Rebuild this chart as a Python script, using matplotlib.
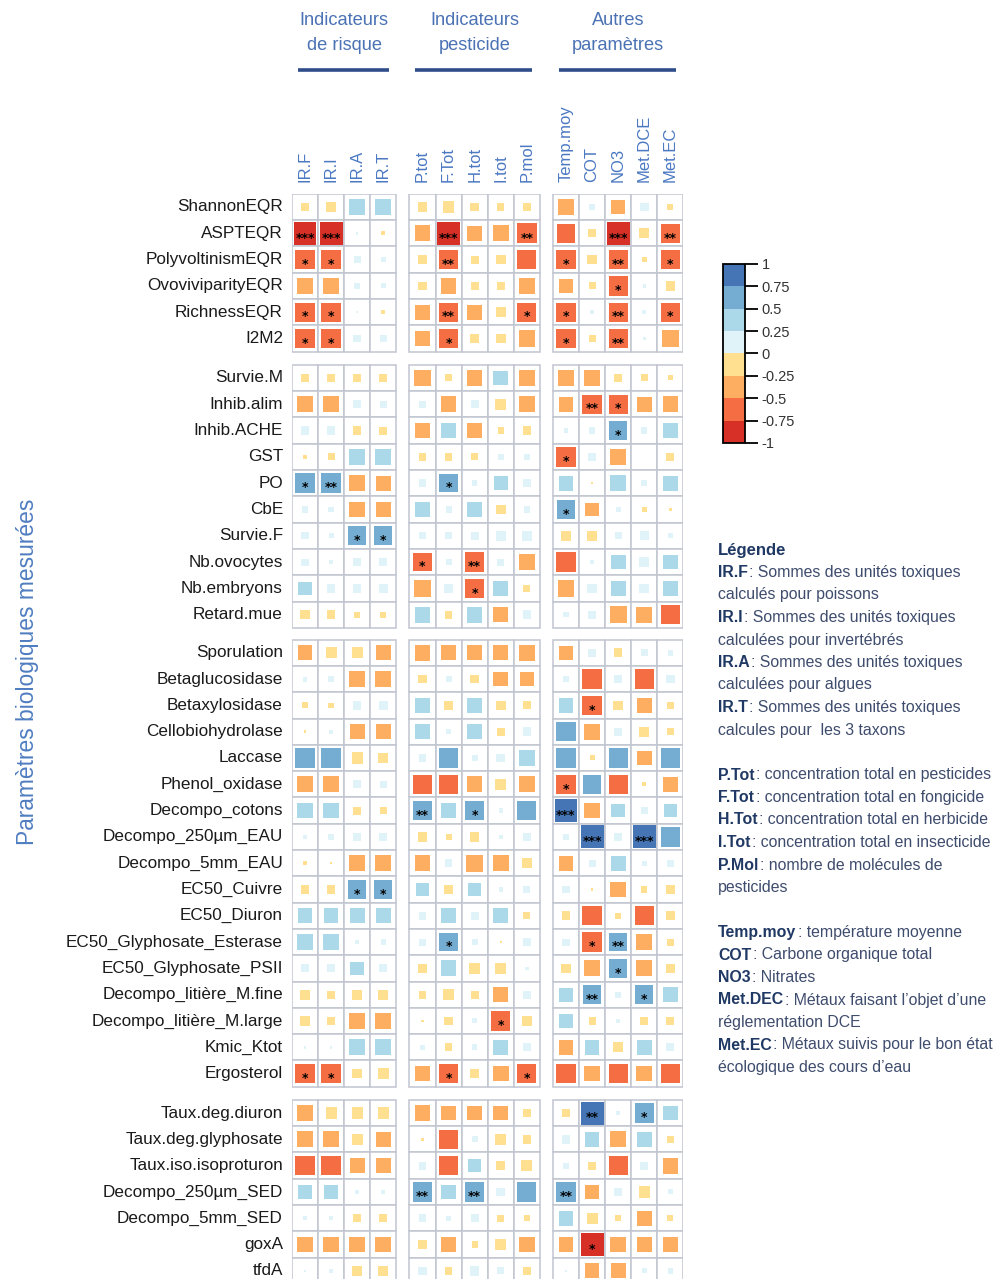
import numpy as np
import matplotlib
matplotlib.use("Agg")
import matplotlib.pyplot as plt
from matplotlib.patches import Rectangle
from matplotlib.colors import ListedColormap, BoundaryNorm
from matplotlib import font_manager
import matplotlib.colorbar as mcolorbar

# ---- data ----
col_groups = ["Indicateurs\nde risque", "Indicateurs\npesticide", "Autres\nparamètres"]
col_group_sizes = [4, 5, 5]
col_labels = ["IR.F", "IR.I", "IR.A", "IR.T",
              "P.tot", "F.Tot", "H.tot", "I.tot", "P.mol",
              "Temp.moy", "COT", "NO3", "Met.DCE", "Met.EC"]

rows_1 = ["ShannonEQR", "ASPTEQR", "PolyvoltinismEQR", "OvoviviparityEQR", "RichnessEQR", "I2M2"]
corr_1 = [
    [-0.10, -0.15, 0.40, 0.40, -0.15, -0.20, -0.12, -0.08, -0.12, -0.40, 0.05, -0.30, 0.12, -0.06],
    [-0.85, -0.85, 0.01, -0.03, -0.40, -0.85, -0.35, -0.40, -0.65, -0.55, -0.10, -0.85, -0.15, -0.60],
    [-0.60, -0.60, 0.08, 0.05, -0.15, -0.60, -0.10, -0.15, -0.60, -0.60, -0.15, -0.60, -0.05, -0.60],
    [-0.40, -0.40, 0.06, 0.04, -0.12, -0.40, -0.10, -0.10, -0.40, -0.35, -0.08, -0.60, 0.02, -0.15],
    [-0.60, -0.60, 0.01, -0.03, -0.35, -0.60, -0.35, -0.15, -0.60, -0.60, 0.03, -0.60, 0.03, -0.60],
    [-0.60, -0.60, 0.10, 0.08, -0.35, -0.60, -0.15, -0.15, -0.45, -0.60, -0.08, -0.60, 0.02, -0.45],
]
stars_1 = ["00000000000000", "33000300200302", "11000200010201",
           "00000000000100", "11000200110201", "11000100010200"]

rows_2 = ["Survie.M", "Inhib.alim", "Inhib.ACHE", "GST", "PO", "CbE", "Survie.F",
          "Nb.ovocytes", "Nb.embryons", "Retard.mue"]
corr_2 = [
    [-0.12, -0.12, -0.10, -0.10, -0.45, -0.08, -0.40, 0.35, -0.45, -0.45, -0.40, -0.10, -0.08, -0.04],
    [-0.40, -0.40, 0.10, 0.08, 0.08, -0.40, 0.10, -0.20, -0.40, -0.35, -0.60, -0.60, -0.35, -0.40],
    [0.12, 0.12, -0.12, -0.10, -0.40, 0.35, -0.40, -0.06, -0.12, 0.03, 0.06, 0.55, 0.06, 0.35],
    [-0.02, -0.08, 0.40, 0.40, -0.10, -0.10, -0.08, 0.06, 0.05, -0.60, 0.10, -0.40, 0.00, -0.10],
    [0.60, 0.60, -0.40, -0.35, 0.10, 0.55, 0.05, 0.30, 0.12, 0.35, -0.01, 0.40, 0.06, 0.35],
    [0.06, 0.05, -0.40, -0.35, 0.35, 0.06, 0.35, -0.15, 0.06, 0.55, -0.30, 0.04, -0.05, -0.01],
    [0.08, 0.04, 0.55, 0.55, 0.08, 0.08, 0.10, 0.15, 0.15, -0.15, -0.15, 0.08, 0.12, 0.04],
    [0.08, 0.03, 0.10, 0.10, -0.55, 0.06, -0.60, 0.08, -0.40, -0.60, 0.03, 0.35, 0.15, 0.35],
    [0.30, 0.12, 0.12, 0.12, -0.45, 0.15, -0.55, 0.35, -0.08, -0.45, 0.15, 0.35, 0.15, 0.35],
    [-0.15, -0.12, -0.06, -0.06, 0.40, -0.10, 0.40, -0.35, 0.12, 0.05, 0.10, -0.45, -0.40, -0.60],
]
stars_2 = ["00000000000000", "00000000002100", "00000000000100", "00000000010000",
           "12000100000000", "00000000010000", "00110000000000", "00001020000000",
           "00000010000000", "00000000000000"]

rows_3 = ["Sporulation", "Betaglucosidase", "Betaxylosidase", "Cellobiohydrolase", "Laccase",
          "Phenol_oxidase", "Decompo_cotons", "Decompo_250µm_EAU", "Decompo_5mm_EAU",
          "EC50_Cuivre", "EC50_Diuron", "EC50_Glyphosate_Esterase", "EC50_Glyphosate_PSII",
          "Decompo_litière_M.fine", "Decompo_litière_M.large", "Kmic_Ktot", "Ergosterol"]
corr_3 = [
    [-0.35, -0.20, -0.20, -0.35, -0.40, -0.35, -0.35, -0.35, -0.40, -0.30, 0.10, -0.12, 0.08, 0.05],
    [0.04, 0.06, -0.40, -0.40, -0.12, 0.06, -0.12, -0.35, -0.35, 0.06, -0.60, 0.12, -0.60, 0.12],
    [-0.06, -0.05, 0.12, 0.12, 0.35, -0.12, 0.35, -0.15, -0.10, 0.35, -0.60, -0.15, -0.35, -0.08],
    [-0.01, 0.03, -0.35, -0.35, 0.35, 0.05, 0.35, -0.10, 0.12, 0.60, -0.40, 0.10, -0.15, -0.08],
    [0.60, 0.60, -0.20, -0.15, 0.10, 0.60, 0.06, 0.12, 0.40, 0.60, -0.04, 0.60, -0.35, 0.60],
    [-0.40, -0.40, 0.10, 0.08, -0.60, -0.60, -0.40, -0.20, -0.40, -0.60, 0.55, -0.60, -0.03, -0.35],
    [0.40, 0.40, -0.10, -0.08, 0.60, 0.35, 0.55, 0.03, 0.60, 0.80, -0.40, 0.30, 0.08, 0.30],
    [0.02, 0.06, 0.10, 0.10, -0.15, -0.06, -0.15, 0.02, 0.10, 0.06, 0.85, 0.10, 0.85, 0.60],
    [-0.03, -0.01, -0.40, -0.40, -0.40, 0.10, -0.45, -0.40, -0.15, -0.35, 0.08, 0.35, 0.04, 0.08],
    [-0.12, -0.12, 0.55, 0.55, 0.30, -0.15, 0.30, 0.03, 0.08, 0.08, -0.01, -0.40, -0.06, -0.15],
    [0.35, 0.35, 0.35, 0.35, 0.10, 0.35, 0.10, 0.35, -0.08, -0.12, -0.60, -0.06, -0.60, -0.12],
    [0.40, 0.40, 0.02, 0.05, 0.08, 0.55, 0.06, -0.01, 0.10, 0.08, -0.60, 0.55, -0.40, -0.08],
    [0.10, 0.10, 0.30, 0.10, -0.15, 0.40, -0.20, -0.20, 0.02, -0.15, -0.40, 0.55, -0.40, -0.15],
    [-0.15, -0.10, -0.15, -0.15, -0.10, -0.20, -0.10, -0.35, 0.10, 0.30, 0.55, 0.06, 0.55, 0.35],
    [-0.15, -0.12, -0.40, -0.40, -0.01, -0.12, 0.04, -0.60, -0.15, 0.35, -0.08, 0.02, -0.10, -0.10],
    [0.01, 0.01, 0.40, 0.40, 0.04, -0.10, 0.05, 0.35, 0.10, -0.35, 0.35, -0.15, 0.35, 0.10],
    [-0.60, -0.60, -0.15, -0.20, -0.40, -0.60, -0.15, -0.40, -0.60, -0.60, -0.40, -0.60, -0.40, -0.60],
]
stars_3 = ["00000000000000", "00000000000000", "00000000001000", "00000000000000",
           "00000000000000", "00000000010000", "00002010030000", "00000000003030",
           "00000000000000", "00110000000000", "00000000000000", "00000100001200",
           "00000000000100", "00000000002010", "00000001000000", "00000000000000",
           "11000100100000"]

rows_4 = ["Taux.deg.diuron", "Taux.deg.glyphosate", "Taux.iso.isoproturon", "Decompo_250µm_SED",
          "Decompo_5mm_SED", "goxA", "tfdA"]
corr_4 = [
    [-0.40, -0.20, -0.20, -0.20, -0.40, -0.35, -0.35, -0.35, -0.10, -0.12, 0.85, 0.02, 0.60, 0.35],
    [-0.40, -0.40, -0.20, -0.35, -0.01, -0.60, 0.06, -0.20, -0.12, 0.12, 0.35, -0.40, 0.35, -0.08],
    [-0.60, -0.60, -0.35, -0.35, 0.10, -0.60, 0.30, -0.12, -0.20, 0.06, -0.10, -0.60, 0.10, -0.40],
    [0.35, 0.35, 0.02, 0.03, 0.60, 0.35, 0.60, 0.12, 0.60, 0.60, -0.35, 0.10, -0.20, 0.04],
    [0.02, 0.02, -0.10, -0.10, 0.10, 0.04, 0.10, -0.08, -0.06, 0.35, -0.20, -0.06, -0.35, -0.06],
    [-0.40, -0.40, -0.40, -0.40, -0.15, -0.40, -0.06, -0.20, -0.40, -0.35, -0.85, -0.40, -0.35, -0.35],
    [0.01, 0.03, -0.15, -0.15, 0.12, -0.10, 0.15, 0.08, -0.12, 0.01, -0.35, -0.35, 0.04, 0.05],
]
stars_4 = ["00000000002010", "00000000000000", "00000000000000", "00002020020000",
           "00000000000000", "00000000001000", "00000000000000"]

cbar_ticks = [-1, -0.75, -0.5, -0.25, 0, 0.25, 0.5, 0.75, 1]
cbar_labels = ["-1", "-0.75", "-0.5", "-0.25", "0", "0.25", "0.5", "0.75", "1"]

legend_lines = [
    ("IR.F", "Sommes des unités toxiques"), (None, "calculés pour poissons"),
    ("IR.I", "Sommes des unités toxiques"), (None, "calculées pour invertébrés"),
    ("IR.A", "Sommes des unités toxiques"), (None, "calculées pour algues"),
    ("IR.T", "Sommes des unités toxiques"), (None, "calcules pour  les 3 taxons"),
    None,
    ("P.Tot", "concentration total en pesticides"), ("F.Tot", "concentration total en fongicide"),
    ("H.Tot", "concentration total en herbicide"), ("I.Tot", "concentration total en insecticide"),
    ("P.Mol", "nombre de molécules de"), (None, "pesticides"),
    None,
    ("Temp.moy", "température moyenne"), ("COT", "Carbone organique total"),
    ("NO3", "Nitrates"), ("Met.DEC", "Métaux faisant l’objet d’une"),
    (None, "réglementation DCE"), ("Met.EC", "Métaux suivis pour le bon état"),
    (None, "écologique des cours d’eau"),
]

palette = ["#D73027", "#F46D43", "#FDAE61", "#FEE090",
           "#E0F3F8", "#ABD9E9", "#74ADD1", "#4575B4"]

# ---- fonts ----
names = {f.name for f in font_manager.fontManager.ttflist}
if "Liberation Sans Narrow" in names:
    NARROW, nk = "Liberation Sans Narrow", 1.0
else:
    NARROW, nk = "Liberation Sans", 0.82
REG = "Liberation Sans"

W, H = 994, 1279
fig = plt.figure(figsize=(W / 100, H / 100), dpi=100)
fig.patch.set_facecolor("white")

X0, CW = 305, 26.1
Y0, CH = 207, 26.3

def fx(px):
    return px / W

def fy(py):
    return 1 - py / H

corr = np.array(corr_1 + corr_2 + corr_3 + corr_4)
stars = stars_1 + stars_2 + stars_3 + stars_4
row_labels = rows_1 + rows_2 + rows_3 + rows_4
row_block_sizes = [len(rows_1), len(rows_2), len(rows_3), len(rows_4)]
row_gaps = [0, 0.5, 0.95, 1.45]

col_x = []
for g, n in enumerate(col_group_sizes):
    for j in range(n):
        col_x.append(len(col_x) + 0.5 * g)
row_y = []
for b, n in enumerate(row_block_sizes):
    for i in range(n):
        row_y.append(len(row_y) + row_gaps[b])

ymax = row_y[-1] + 0.5
ax = fig.add_axes([fx(X0 - 0.5 * CW), fy(Y0 + ymax * CH), 15 * CW / W, (ymax + 0.5) * CH / H])
ax.set_xlim(-0.5, 14.5)
ax.set_ylim(ymax, -0.5)
ax.axis("off")

cmap = ListedColormap(palette)
norm = BoundaryNorm(np.linspace(-1, 1, 9), 8)

for i, cy in enumerate(row_y):
    for j, cx in enumerate(col_x):
        ax.add_patch(Rectangle((cx - 0.5, cy - 0.5), 1, 1, facecolor="white",
                               edgecolor="#C1C5CF", linewidth=1.1, zorder=1))
        r = corr[i, j]
        s = 0.95 * np.sqrt(abs(r))
        ax.add_patch(Rectangle((cx - s / 2, cy - s / 2), s, s, facecolor=cmap(norm(r)),
                               edgecolor="none", zorder=2))
        n = int(stars[i][j])
        if n:
            ax.text(cx, cy + 0.18, "*" * n, ha="center", va="center", fontsize=9,
                    color="black", family="DejaVu Sans", weight="bold", zorder=3)

def py2y(py):
    return (py - Y0) / CH

def px2x(px):
    return (px - X0) / CW

# row labels
for lab, cy in zip(row_labels, row_y):
    ax.text(px2x(283), cy, lab, ha="right", va="center", fontsize=12.3,
            color="#1A1A1A", family=REG, clip_on=False)

# column labels
for lab, cx in zip(col_labels, col_x):
    ax.text(cx, py2y(182), lab, rotation=90, ha="center", va="bottom", fontsize=12,
            color="#4A78C2", family=REG, clip_on=False)

# group headers and underlines
start = 0
for g, n in enumerate(col_group_sizes):
    left = col_x[start] - 0.5
    right = col_x[start + n - 1] + 0.5
    ax.text((left + right) / 2, py2y(33), col_groups[g], ha="center", va="center",
            fontsize=16 * nk, color="#4A72B4", family=NARROW, linespacing=1.6,
            clip_on=False)
    ax.plot([left + 0.23, right - 0.3], [py2y(70), py2y(70)], color="#2E4D8A",
            linewidth=2.6, solid_capstyle="butt", clip_on=False)
    start += n

# y axis title
fig.text(fx(28), fy(672), "Paramètres biologiques mesurées", rotation=90, ha="center",
         va="center", fontsize=20 * nk, color="#4F7DC0", family=NARROW)

# colorbar
cax = fig.add_axes([fx(723), fy(443), 22 / W, 179 / H])
cb = mcolorbar.ColorbarBase(cax, cmap=cmap, norm=norm, ticks=cbar_ticks,
                            orientation="vertical")
cb.ax.set_yticklabels(cbar_labels)
cb.outline.set_linewidth(1.3)
cb.outline.set_edgecolor("black")
cax.tick_params(length=9, width=1.3, labelsize=10.5, colors="black", pad=3,
                labelcolor="#333333")
for t in cax.get_yticklabels():
    t.set_family(REG)

# legend text block
renderer = fig.canvas.get_renderer()
fs = 11.4 if nk < 1 else 13.5
fig.text(fx(718), fy(550), "Légende", ha="left", va="center", fontsize=fs + 0.6,
         weight="bold", color="#1F3864", family=NARROW)
for k, item in enumerate(legend_lines):
    if item is None:
        continue
    y = fy(550 + 22.5 * (k + 1))
    key, rest = item
    if key is None:
        fig.text(fx(718), y, rest, ha="left", va="center", fontsize=fs,
                 color="#3E4C6D", family=NARROW)
    else:
        t = fig.text(fx(718), y, key, ha="left", va="center", fontsize=fs,
                     weight="bold", color="#1F3864", family=NARROW)
        bb = t.get_window_extent(renderer)
        fig.text(fx(bb.x1 + 1.5), y, ": " + rest, ha="left", va="center", fontsize=fs,
                 color="#3E4C6D", family=NARROW)

fig.savefig("out.png", dpi=100, facecolor="white")
